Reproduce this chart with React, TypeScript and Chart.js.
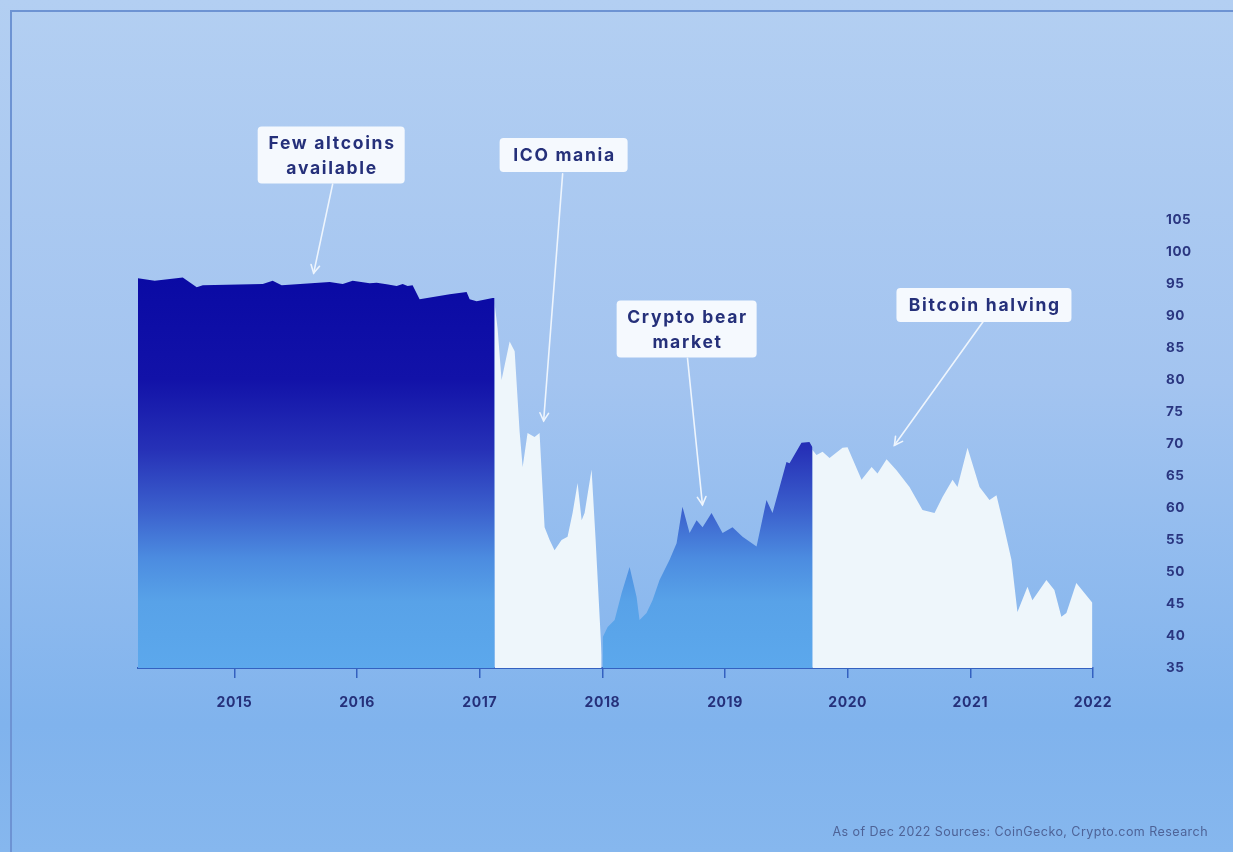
import React, { useEffect, useRef } from 'react';
import { Chart, registerables } from 'chart.js';

Chart.register(...registerables);

// ---- Data (decimal year, BTC dominance %) ----
const YEAR_TICKS = [2015, 2016, 2017, 2018, 2019, 2020, 2021, 2022];
const X_MIN = 2014.214;
const X_MAX = 2022.0;
const Y_MIN = 35;
const Y_MAX = 105;
const Y_STEP = 5;

const era1Dates = [2014.214, 2014.35, 2014.579, 2014.693, 2014.742, 2015.231, 2015.312, 2015.385, 2015.777, 2015.883, 2015.964, 2016.103, 2016.16, 2016.241, 2016.323, 2016.372, 2016.412, 2016.453, 2016.51, 2016.755, 2016.893, 2016.918, 2016.975, 2017.105, 2017.121];
const era1Values = [95.9, 95.5, 96.0, 94.5, 94.8, 95.0, 95.5, 94.8, 95.3, 95.0, 95.5, 95.1, 95.2, 94.95, 94.7, 95.0, 94.7, 94.8, 92.6, 93.4, 93.75, 92.6, 92.3, 92.8, 92.8];

const era2Dates = [2017.121, 2017.146, 2017.178, 2017.211, 2017.244, 2017.285, 2017.325, 2017.35, 2017.39, 2017.447, 2017.488, 2017.529, 2017.57, 2017.61, 2017.667, 2017.716, 2017.757, 2017.798, 2017.831, 2017.855, 2017.912, 2017.945, 2017.994];
const era2Values = [92.0, 88.0, 80.0, 83.0, 86.0, 84.5, 72.0, 66.4, 71.7, 71.1, 71.7, 57.0, 55.0, 53.4, 55.0, 55.5, 59.2, 63.9, 58.1, 59.2, 66.0, 55.0, 37.0];

const era3Dates = [2018.002, 2018.043, 2018.1, 2018.157, 2018.222, 2018.279, 2018.303, 2018.36, 2018.409, 2018.466, 2018.548, 2018.605, 2018.653, 2018.711, 2018.768, 2018.817, 2018.89, 2018.98, 2019.061, 2019.143, 2019.257, 2019.338, 2019.387, 2019.501, 2019.526, 2019.623, 2019.688, 2019.713];
const era3Values = [39.8, 41.4, 42.5, 46.7, 50.8, 46.1, 42.5, 43.6, 45.6, 48.75, 51.9, 54.5, 60.2, 56.1, 58.1, 57.0, 59.2, 56.1, 57.0, 55.5, 54.0, 61.25, 59.2, 67.2, 67.0, 70.2, 70.3, 69.5];

const era4Dates = [2019.711, 2019.746, 2019.795, 2019.852, 2019.958, 2019.999, 2020.113, 2020.195, 2020.243, 2020.317, 2020.398, 2020.504, 2020.61, 2020.708, 2020.773, 2020.855, 2020.895, 2020.977, 2021.075, 2021.156, 2021.213, 2021.262, 2021.335, 2021.384, 2021.466, 2021.506, 2021.62, 2021.685, 2021.742, 2021.783, 2021.864, 2021.995];
const era4Values = [69.1, 68.3, 68.8, 67.8, 69.4, 69.5, 64.4, 66.4, 65.4, 67.6, 65.9, 63.3, 59.7, 59.2, 61.7, 64.4, 63.3, 69.4, 63.3, 61.25, 62.0, 58.1, 51.9, 43.75, 47.7, 45.6, 48.75, 47.2, 43.0, 43.6, 48.3, 45.2];

// Annotation labels
const noteTexts = [['Few altcoins', 'available'], ['ICO mania'], ['Crypto bear', 'market'], ['Bitcoin halving']];
// box centre (year, value), arrow start (year, value), arrow tip (year, value)
const noteBoxAt = [[2015.789, 115.16], [2017.684, 115.16], [2018.687, 87.97], [2021.111, 91.72]];
const noteArrowFrom = [[2015.801, 110.6], [2017.676, 112.2], [2018.694, 83.4], [2021.115, 89.4]];
const noteArrowTo = [[2015.646, 96.7], [2017.521, 73.6], [2018.816, 60.5], [2020.381, 69.8]];
const noteBoxW = [147, 128, 140, 175];

const FOOTNOTE = 'As of Dec 2022 Sources: CoinGecko, Crypto.com Research';

const toPoints = (d: number[], v: number[]) => d.map((x, i) => ({ x, y: v[i] }));

const W = 1233;
const H = 852;

function blueFill(c: any) {
  const chart = c.chart;
  const ys = chart.scales && chart.scales.y;
  if (!chart.chartArea || !ys) return '#2a3cc0';
  const g = chart.ctx.createLinearGradient(0, ys.getPixelForValue(96), 0, ys.getPixelForValue(35));
  g.addColorStop(0, '#0a0aa4');
  g.addColorStop(0.26, '#1212a8');
  g.addColorStop(0.44, '#2631b7');
  g.addColorStop(0.595, '#3b60cd');
  g.addColorStop(0.72, '#4c8ce0');
  g.addColorStop(0.83, '#58a2e8');
  g.addColorStop(1, '#5ca8ec');
  return g;
}

const WHITE_FILL = '#eef6fb';
const NAVY = '#25307a';

const bgPlugin = {
  id: 'bg',
  beforeDraw(chart: any) {
    const ctx = chart.ctx;
    ctx.save();
    const g = ctx.createLinearGradient(0, 0, 0, H);
    g.addColorStop(0, '#b3cff2');
    g.addColorStop(0.45, '#a3c4f0');
    g.addColorStop(0.85, '#80b3ed');
    g.addColorStop(1, '#86b7ee');
    ctx.fillStyle = g;
    ctx.fillRect(0, 0, W, H);
    ctx.strokeStyle = '#6d93d3';
    ctx.lineWidth = 2;
    ctx.beginPath();
    ctx.moveTo(11, H);
    ctx.lineTo(11, 11);
    ctx.lineTo(W, 11);
    ctx.stroke();
    ctx.restore();
    (ctx as any).letterSpacing = '0.6px';
  },
};

function roundRect(ctx: CanvasRenderingContext2D, x: number, y: number, w: number, h: number, r: number) {
  ctx.beginPath();
  ctx.moveTo(x + r, y);
  ctx.lineTo(x + w - r, y);
  ctx.quadraticCurveTo(x + w, y, x + w, y + r);
  ctx.lineTo(x + w, y + h - r);
  ctx.quadraticCurveTo(x + w, y + h, x + w - r, y + h);
  ctx.lineTo(x + r, y + h);
  ctx.quadraticCurveTo(x, y + h, x, y + h - r);
  ctx.lineTo(x, y + r);
  ctx.quadraticCurveTo(x, y, x + r, y);
  ctx.closePath();
}

const notesPlugin = {
  id: 'notes',
  afterDraw(chart: any) {
    const ctx = chart.ctx as CanvasRenderingContext2D;
    const xs = chart.scales.x;
    const ys = chart.scales.y;
    ctx.save();
    // arrows
    noteTexts.forEach((_, i) => {
      const x0 = xs.getPixelForValue(noteArrowFrom[i][0]);
      const y0 = ys.getPixelForValue(noteArrowFrom[i][1]);
      const x1 = xs.getPixelForValue(noteArrowTo[i][0]);
      const y1 = ys.getPixelForValue(noteArrowTo[i][1]);
      ctx.strokeStyle = '#eef5fd';
      ctx.lineWidth = 1.6;
      ctx.lineCap = 'round';
      ctx.beginPath();
      ctx.moveTo(x0, y0);
      ctx.lineTo(x1, y1);
      ctx.stroke();
      const ang = Math.atan2(y1 - y0, x1 - x0);
      const L = 9;
      ctx.beginPath();
      ctx.moveTo(x1 - L * Math.cos(ang - 0.5), y1 - L * Math.sin(ang - 0.5));
      ctx.lineTo(x1, y1);
      ctx.lineTo(x1 - L * Math.cos(ang + 0.5), y1 - L * Math.sin(ang + 0.5));
      ctx.stroke();
    });
    // boxes
    noteTexts.forEach((lines, i) => {
      const cx = xs.getPixelForValue(noteBoxAt[i][0]);
      const cy = ys.getPixelForValue(noteBoxAt[i][1]);
      const lh = 25;
      const h = lines.length === 1 ? 34 : 57;
      const w = noteBoxW[i];
      ctx.fillStyle = '#f5f9fe';
      roundRect(ctx, cx - w / 2, cy - h / 2, w, h, 4);
      ctx.fill();
      ctx.fillStyle = NAVY;
      ctx.font = '700 17.5px Inter, "Noto Sans", sans-serif';
      (ctx as any).letterSpacing = '1.7px';
      ctx.textAlign = 'center';
      ctx.textBaseline = 'middle';
      lines.forEach((t, k) => {
        const ty = cy + (k - (lines.length - 1) / 2) * lh;
        ctx.fillText(t, cx + 0.9, ty + 1);
      });
    });
    // footnote
    ctx.fillStyle = '#4e6397';
    ctx.font = '400 12.5px Inter, "Noto Sans", sans-serif';
    (ctx as any).letterSpacing = '0.45px';
    ctx.textAlign = 'right';
    ctx.textBaseline = 'middle';
    ctx.fillText(FOOTNOTE, 1208, 832);
    ctx.restore();
    (ctx as any).letterSpacing = '0px';
  },
};

export default function App() {
  const ref = useRef<HTMLCanvasElement | null>(null);

  useEffect(() => {
    if (!ref.current) return;
    const base = { borderWidth: 0, pointRadius: 0, tension: 0, fill: 'start' as const };
    const chart = new Chart(ref.current, {
      type: 'line',
      data: {
        datasets: [
          { ...base, label: 'Few altcoins', data: toPoints(era1Dates, era1Values), backgroundColor: blueFill },
          { ...base, label: 'ICO mania', data: toPoints(era2Dates, era2Values), backgroundColor: WHITE_FILL },
          { ...base, label: 'Bear market', data: toPoints(era3Dates, era3Values), backgroundColor: blueFill },
          { ...base, label: 'Halving', data: toPoints(era4Dates, era4Values), backgroundColor: WHITE_FILL },
        ],
      },
      options: {
        responsive: false,
        animation: false,
        events: [],
        layout: { padding: { left: 138, top: 220, right: 0, bottom: 0 } },
        plugins: { legend: { display: false }, tooltip: { enabled: false }, title: { display: false } },
        scales: {
          x: {
            type: 'linear',
            position: 'bottom',
            min: X_MIN,
            max: X_MAX,
            z: 1,
            afterBuildTicks: (s: any) => {
              s.ticks = YEAR_TICKS.map((v) => ({ value: v }));
            },
            afterFit: (s: any) => {
              s.height = H - 668;
            },
            border: { display: true, color: '#3461c0', width: 2 },
            grid: { display: true, drawOnChartArea: false, drawTicks: true, tickLength: 10, color: '#3461c0', lineWidth: 1.5 },
            ticks: {
              autoSkip: false,
              maxRotation: 0,
              padding: 16,
              color: NAVY,
              font: { family: 'Inter, "Noto Sans", sans-serif', size: 14, weight: 'bold' },
              callback: (v: any) => String(v),
            },
          },
          y: {
            type: 'linear',
            position: 'right',
            min: Y_MIN,
            max: Y_MAX,
            afterFit: (s: any) => {
              s.width = W - 1093;
            },
            border: { display: false },
            grid: { display: false, drawTicks: false },
            ticks: {
              stepSize: Y_STEP,
              padding: 73,
              color: '#2a3680',
              font: { family: 'Inter, "Noto Sans", sans-serif', size: 13.5, weight: 'bold' },
            },
          },
        },
      },
      plugins: [bgPlugin, notesPlugin],
    } as any);
    return () => chart.destroy();
  }, []);

  return (
    <div style={{ position: 'fixed', left: 0, top: 0, width: W, height: H }}>
      <canvas ref={ref} width={W} height={H} style={{ display: 'block', width: W, height: H }} />
    </div>
  );
}
